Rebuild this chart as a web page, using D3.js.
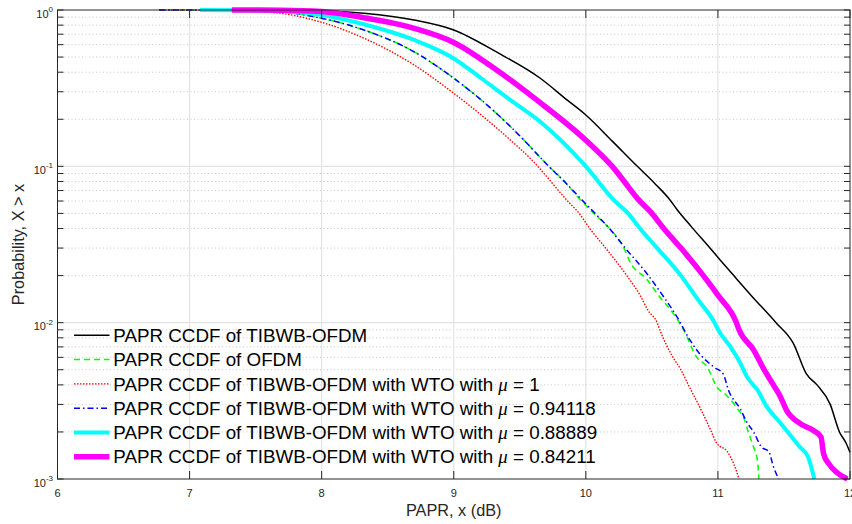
<!DOCTYPE html>
<html>
<head>
<meta charset="utf-8">
<script src="https://cdn.jsdelivr.net/npm/d3@7"></script>
<style>
  body { margin: 0; background: #ffffff; }
  svg { display: block; font-family: "Liberation Sans", Arial, Helvetica, sans-serif; }
</style>
</head>
<body>
<div id="chart"></div>
<script>
// x ticks (dB) and y decades
var x_ticks = [6, 7, 8, 9, 10, 11, 12];
var y_exps = [0, -1, -2, -3];

// curves: [PAPR dB, probability]
var tibwb = [[7.40, 1.0], [7.70, 0.999], [8.0, 0.99], [8.32, 0.953], [8.70, 0.863], [9.0, 0.745],
    [9.33, 0.535], [9.655, 0.366], [9.86, 0.265], [10.0, 0.213], [10.2, 0.145], [10.39, 0.1],
    [10.52, 0.078], [10.63, 0.062], [10.69, 0.053], [10.80, 0.041], [10.94, 0.03], [11.02, 0.025],
    [11.12, 0.02], [11.25, 0.015], [11.44, 0.01], [11.57, 0.0074], [11.67, 0.0047], [11.75, 0.004],
    [11.85, 0.003], [11.92, 0.002], [11.97, 0.0017], [12.0, 0.00148]];

var ofdm = [[6.77, 1.0], [7.2, 0.998], [7.5, 0.99], [7.69, 0.975], [8.0, 0.885], [8.32, 0.745],
    [8.70, 0.54], [9.0, 0.366], [9.21, 0.265], [9.48, 0.163], [9.71, 0.102], [9.85, 0.078],
    [9.96, 0.061], [10.06, 0.05], [10.18, 0.04], [10.28, 0.031], [10.34, 0.024], [10.46, 0.019],
    [10.56, 0.0146], [10.66, 0.0115], [10.74, 0.009], [10.84, 0.006], [10.92, 0.0052], [10.99, 0.0039],
    [11.07, 0.0034], [11.15, 0.0028], [11.20, 0.0024], [11.23, 0.002], [11.27, 0.0016],
    [11.30, 0.0013], [11.31, 0.001]];

var wto_mu1 = [[6.77, 1.0], [7.2, 0.995], [7.5, 0.975], [7.69, 0.952], [8.0, 0.834], [8.32, 0.66],
    [8.70, 0.445], [9.0, 0.293], [9.37, 0.163], [9.59, 0.11], [9.87, 0.059],
    [9.95, 0.05], [10.03, 0.04], [10.15, 0.03], [10.31, 0.02], [10.42, 0.0145], [10.47, 0.012],
    [10.54, 0.01], [10.56, 0.009], [10.66, 0.006], [10.72, 0.005], [10.77, 0.0041], [10.87, 0.0028],
    [10.94, 0.0021], [10.99, 0.0017], [11.07, 0.0015], [11.12, 0.00125], [11.16, 0.001]];

var wto_mu094 = [[6.77, 1.0], [7.2, 0.998], [7.5, 0.99], [7.69, 0.975], [8.0, 0.885], [8.32, 0.745],
    [8.70, 0.54], [9.0, 0.366], [9.21, 0.265], [9.48, 0.163], [9.71, 0.102], [9.85, 0.078],
    [9.97, 0.061], [10.07, 0.05], [10.19, 0.039], [10.29, 0.0306], [10.46, 0.0207], [10.59, 0.0146],
    [10.69, 0.0109], [10.79, 0.0077], [10.87, 0.0062], [10.97, 0.0052], [11.04, 0.0047], [11.08, 0.0037],
    [11.17, 0.0028], [11.22, 0.0023], [11.27, 0.002], [11.33, 0.0016], [11.385, 0.0015],
    [11.42, 0.0012], [11.46, 0.001]];

var wto_mu089 = [[7.08, 1.0], [7.40, 0.998], [7.69, 0.985], [8.0, 0.93], [8.32, 0.81], [8.70, 0.643],
    [9.0, 0.49], [9.2, 0.37], [9.43, 0.265], [9.655, 0.193], [10.0, 0.1], [10.21, 0.061],
    [10.32, 0.05], [10.41, 0.04], [10.54, 0.03], [10.72, 0.02], [10.85, 0.014], [10.96, 0.0105],
    [11.02, 0.0085], [11.09, 0.0071], [11.17, 0.0055], [11.22, 0.0045], [11.30, 0.0037],
    [11.37, 0.0029], [11.47, 0.0023], [11.55, 0.0019], [11.62, 0.0016], [11.68, 0.0014], [11.73, 0.001]];

var wto_mu084 = [[7.32, 1.0], [7.69, 0.998], [8.0, 0.977], [8.32, 0.893], [8.70, 0.763], [9.0, 0.62],
    [9.33, 0.41], [9.63, 0.265], [10.0, 0.147], [10.2, 0.1], [10.40, 0.061], [10.50, 0.05],
    [10.59, 0.04], [10.72, 0.03], [10.89, 0.02], [11.0, 0.015], [11.14, 0.01], [11.16, 0.009],
    [11.27, 0.0067], [11.35, 0.005], [11.42, 0.004], [11.47, 0.0034], [11.52, 0.00275], [11.62, 0.00227],
    [11.72, 0.00205], [11.78, 0.00186], [11.80, 0.00145], [11.84, 0.00125], [11.90, 0.0011], [11.98, 0.001]];

var series_data = [tibwb, ofdm, wto_mu1, wto_mu094, wto_mu089, wto_mu084];
var legend_names = ['PAPR CCDF of TIBWB-OFDM', 'PAPR CCDF of OFDM',
    'PAPR CCDF of TIBWB-OFDM with WTO with', 'PAPR CCDF of TIBWB-OFDM with WTO with',
    'PAPR CCDF of TIBWB-OFDM with WTO with', 'PAPR CCDF of TIBWB-OFDM with WTO with'];
var legend_mu = [null, null, '1', '0.94118', '0.88889', '0.84211'];

var colors = ['#000000', '#00ff00', '#ff0000', '#0000ff', '#00ffff', '#ff00ff'];
var widths = [1.5, 1.5, 1.4, 1.5, 4, 5.5];
var dashes = [null, '6,4', '1.5,1.5', '6,3,1.5,3', null, null];

// Create SVG Element
var chart_width = 852;
var chart_height = 524;
var p_left = 57.5, p_right = 850, p_top = 10, p_bottom = 479;
var axis_color = '#262626';

var svg = d3.select('#chart')
    .append('svg')
    .attr('width', chart_width)
    .attr('height', chart_height);

// Scales
var x_scale = d3.scaleLinear().domain([6, 12]).range([p_left, p_right]);
var y_scale = d3.scaleLog().domain([1e-3, 1]).range([p_bottom, p_top]);

// Minor grid (dotted)
var minor = [];
y_exps.slice(1).forEach(function(e) {
    for (var k = 2; k <= 9; k++) minor.push(k * Math.pow(10, e));
});
svg.append('g')
    .selectAll('line')
    .data(minor)
    .enter()
    .append('line')
    .attr('x1', p_left).attr('x2', p_right)
    .attr('y1', function(d) { return y_scale(d); })
    .attr('y2', function(d) { return y_scale(d); })
    .attr('stroke', '#c8c8c8')
    .attr('stroke-width', 1)
    .attr('stroke-dasharray', '1,2.5');

// Major grid
svg.append('g')
    .selectAll('line')
    .data(x_ticks.slice(1, -1))
    .enter()
    .append('line')
    .attr('x1', function(d) { return x_scale(d); })
    .attr('x2', function(d) { return x_scale(d); })
    .attr('y1', p_top).attr('y2', p_bottom)
    .attr('stroke', '#e3e3e3')
    .attr('stroke-width', 1.2);
svg.append('g')
    .selectAll('line')
    .data(y_exps.slice(1, -1))
    .enter()
    .append('line')
    .attr('x1', p_left).attr('x2', p_right)
    .attr('y1', function(d) { return y_scale(Math.pow(10, d)); })
    .attr('y2', function(d) { return y_scale(Math.pow(10, d)); })
    .attr('stroke', '#e3e3e3')
    .attr('stroke-width', 1.2);

// Curves
var line = d3.line()
    .curve(d3.curveMonotoneX)
    .x(function(d) { return x_scale(d[0]); })
    .y(function(d) { return y_scale(d[1]); });

svg.append('g')
    .selectAll('path')
    .data(series_data)
    .enter()
    .append('path')
    .attr('d', line)
    .attr('fill', 'none')
    .attr('stroke', function(d, i) { return colors[i]; })
    .attr('stroke-width', function(d, i) { return widths[i]; })
    .attr('stroke-dasharray', function(d, i) { return dashes[i]; })
    .attr('stroke-linejoin', 'round');

// Axes box
svg.append('rect')
    .attr('x', p_left).attr('y', p_top)
    .attr('width', p_right - p_left).attr('height', p_bottom - p_top)
    .attr('fill', 'none')
    .attr('stroke', axis_color)
    .attr('stroke-width', 1);

// Ticks (inward, both sides)
var x_tick_len = 8, y_tick_len = 6;
var tick_g = svg.append('g').attr('stroke', axis_color).attr('stroke-width', 1);
x_ticks.forEach(function(d) {
    var x = x_scale(d);
    tick_g.append('line').attr('x1', x).attr('x2', x).attr('y1', p_bottom).attr('y2', p_bottom - x_tick_len);
    tick_g.append('line').attr('x1', x).attr('x2', x).attr('y1', p_top).attr('y2', p_top + x_tick_len);
});
var y_all = minor.concat(y_exps.map(function(e) { return Math.pow(10, e); }));
y_all.forEach(function(d) {
    var y = y_scale(d);
    tick_g.append('line').attr('x1', p_left).attr('x2', p_left + y_tick_len).attr('y1', y).attr('y2', y);
    tick_g.append('line').attr('x1', p_right).attr('x2', p_right - y_tick_len).attr('y1', y).attr('y2', y);
});

// Tick labels
svg.append('g')
    .selectAll('text')
    .data(x_ticks)
    .enter()
    .append('text')
    .text(function(d) { return d; })
    .attr('x', function(d) { return x_scale(d); })
    .attr('y', 497)
    .attr('font-size', 11)
    .attr('fill', axis_color)
    .attr('text-anchor', 'middle');

var y_labels = svg.append('g')
    .selectAll('text')
    .data(y_exps)
    .enter()
    .append('text')
    .attr('x', 53)
    .attr('y', function(d) { return y_scale(Math.pow(10, d)) + 7.5; })
    .attr('font-size', 11)
    .attr('fill', axis_color)
    .attr('text-anchor', 'end');
y_labels.append('tspan').text('10');
y_labels.append('tspan')
    .attr('dy', -5.5)
    .attr('font-size', 8)
    .text(function(d) { return d; });

// Axis labels
svg.append('text')
    .text('PAPR, x (dB)')
    .attr('x', (p_left + p_right) / 2)
    .attr('y', 516)
    .attr('font-size', 16.3)
    .attr('fill', axis_color)
    .attr('text-anchor', 'middle');
svg.append('text')
    .text('Probability, X > x')
    .attr('transform', 'translate(24,' + (p_top + p_bottom) / 2 + ') rotate(-90)')
    .attr('font-size', 16.3)
    .attr('fill', axis_color)
    .attr('text-anchor', 'middle');

// Legend
var leg_y0 = 335.3, leg_dy = 24.3;
var leg = svg.append('g')
    .selectAll('g')
    .data(d3.range(legend_names.length))
    .enter()
    .append('g')
    .attr('transform', function(i) { return 'translate(0,' + (leg_y0 + i * leg_dy) + ')'; });
leg.append('line')
    .attr('x1', 74).attr('x2', 109.5)
    .attr('y1', 0).attr('y2', 0)
    .attr('stroke', function(i) { return colors[i]; })
    .attr('stroke-width', function(i) { return widths[i]; })
    .attr('stroke-dasharray', function(i) { return dashes[i]; });
var leg_text = leg.append('text')
    .attr('x', 113.3)
    .attr('y', 6.6)
    .attr('font-size', 18.8)
    .attr('fill', '#000000');
leg_text.append('tspan').text(function(i) { return legend_mu[i] ? legend_names[i] + ' ' : legend_names[i]; });
var mu_text = leg_text.filter(function(i) { return legend_mu[i]; });
mu_text.append('tspan')
    .attr('font-family', '"Liberation Serif", "DejaVu Serif", serif')
    .attr('font-style', 'italic')
    .text('\u03bc');
mu_text.append('tspan')
    .text(function(i) { return ' = ' + legend_mu[i]; });
</script>
</body>
</html>
